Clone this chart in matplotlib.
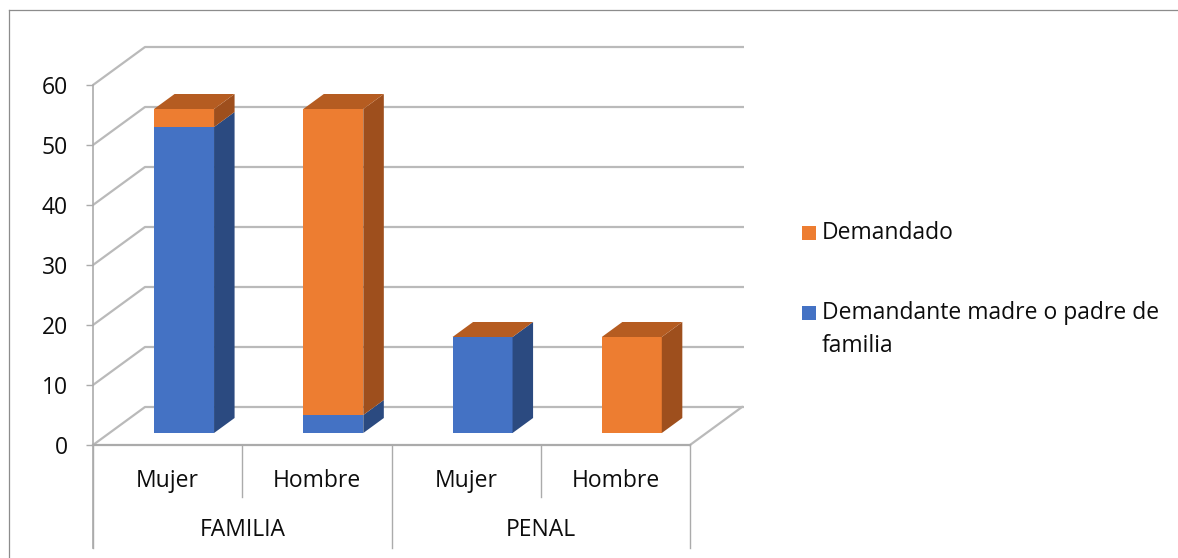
import matplotlib
matplotlib.use("Agg")
import matplotlib.pyplot as plt
from matplotlib.patches import Polygon, Rectangle
from matplotlib.lines import Line2D

plt.rcParams['font.family'] = ['Open Sans', 'DejaVu Sans']

# ---- data ----
groups = ["FAMILIA", "PENAL"]
categories = ["Mujer", "Hombre", "Mujer", "Hombre"]
series_names = ["Demandante madre o padre de\nfamilia", "Demandado"]
demandante = [51, 3, 16, 0]
demandado = [3, 51, 0, 16]
yticks = [0, 10, 20, 30, 40, 50, 60]

blue, orange = "#4472C4", "#ED7D31"
blue_side, orange_side = "#2B4A80", "#9E4F1D"
orange_top = "#B55C21"
grid_c = "#BABABA"
axis_c = "#ABABAB"
txt_c = "#0D0D0D"
FS = 16.5

W, H = 1178, 558
fig = plt.figure(figsize=(W / 100, H / 100), dpi=100)
# front wall: x 93..690 px, y (value 0) 445 px .. (value 60) 85 px
x0p, x1p, y0p, y1p = 93, 690, 445, 85
ax = fig.add_axes([x0p / W, (H - y0p) / H, (x1p - x0p) / W, (y0p - y1p) / H])
ncat = len(categories)
ax.set_xlim(0, ncat)
ax.set_ylim(0, 60)
ax.patch.set_visible(False)
for s in ax.spines.values():
    s.set_visible(False)
ax.set_xticks([])

px_x = ncat / (x1p - x0p)   # data units per pixel in x
px_y = 60 / (y0p - y1p)     # data units per pixel in y
DX, DY = 52 * px_x, 38 * px_y   # full depth offset
d_front, d_depth = 12 / 38, 15 / 38
bar_w = 60 * px_x

# y ticks
ax.set_yticks(yticks)
ax.set_yticklabels([str(t) for t in yticks], fontsize=FS, color=txt_c)
ax.tick_params(axis='y', length=5, width=1, color=axis_c, pad=13)

# gridlines on side wall and back wall
for v in yticks:
    ax.plot([0, DX, ncat + DX + 2 * px_x], [v, v + DY, v + DY], color=grid_c,
            lw=1.6, clip_on=False, zorder=1, solid_capstyle='butt')
# floor right edge
ax.plot([ncat, ncat + DX], [0, DY], color=grid_c, lw=1.6, clip_on=False, zorder=1)
# front axis lines
bottom_ext = -(548 - y0p) * px_y
sub_ext = -(497 - y0p) * px_y
ax.plot([0, 0], [bottom_ext, 60], color=axis_c, lw=1.2, clip_on=False, zorder=2)
ax.plot([0, ncat], [0, 0], color=axis_c, lw=1.6, clip_on=False, zorder=2)
for i in range(ncat + 1):
    ext = bottom_ext if i % 2 == 0 else sub_ext
    ax.plot([i, i], [0, ext], color=axis_c, lw=1.0, clip_on=False, zorder=2)

# bars (pseudo 3-D)
fx, fy = d_front * DX, d_front * DY
bx, by = d_depth * DX, d_depth * DY
for i in range(ncat):
    xl = i + 0.5 - bar_w / 2 + fx
    xr = xl + bar_w
    segs = [(0, demandante[i], blue, blue_side),
            (demandante[i], demandado[i], orange, orange_side)]
    for b0, h, fc, sc in segs:
        if h > 0:
            ax.bar(xl, h, width=bar_w, bottom=b0 + fy, align='edge', color=fc,
                   lw=0, zorder=3, clip_on=False)
            y_lo, y_hi = b0 + fy, b0 + h + fy
            ax.add_patch(Polygon([(xr, y_lo), (xr + bx, y_lo + by), (xr + bx, y_hi + by), (xr, y_hi)],
                                 closed=True, facecolor=sc, lw=0, zorder=3, clip_on=False))
    top = demandante[i] + demandado[i] + fy
    ax.add_patch(Polygon([(xl, top), (xl + bx, top + by), (xr + bx, top + by), (xr, top)],
                         closed=True, facecolor=orange_top, lw=0, zorder=3, clip_on=False))

# category labels
for i, c in enumerate(categories):
    ax.text(i + 0.5, -(481 - y0p) * px_y, c, ha='center', va='center', fontsize=FS,
            color=txt_c, clip_on=False)
for g, name in enumerate(groups):
    ax.text(2 * g + 1, -(530 - y0p) * px_y, name, ha='center', va='center', fontsize=FS,
            color=txt_c, clip_on=False)

# legend
leg_items = [(series_names[1], orange, 233), (series_names[0], blue, 313)]
for label, col, yc in leg_items:
    fig.patches.append(Rectangle((802 / W, 1 - (yc + 7) / H), 14 / W, 14 / H,
                                 transform=fig.transFigure, facecolor=col, lw=0))
    lines = label.split("\n")
    for k, ln in enumerate(lines):
        fig.text(822 / W, 1 - (yc + k * 33) / H, ln, ha='left', va='center',
                 fontsize=FS, color=txt_c)

# outer chart border
fig.add_artist(Line2D([9 / W, 1], [1 - 10 / H, 1 - 10 / H], transform=fig.transFigure,
                      color="#8C8C8C", lw=0.9))
fig.add_artist(Line2D([9 / W, 9 / W], [0, 1 - 10 / H], transform=fig.transFigure,
                      color="#8C8C8C", lw=0.9))

fig.savefig("out.png", dpi=100, facecolor="white")
